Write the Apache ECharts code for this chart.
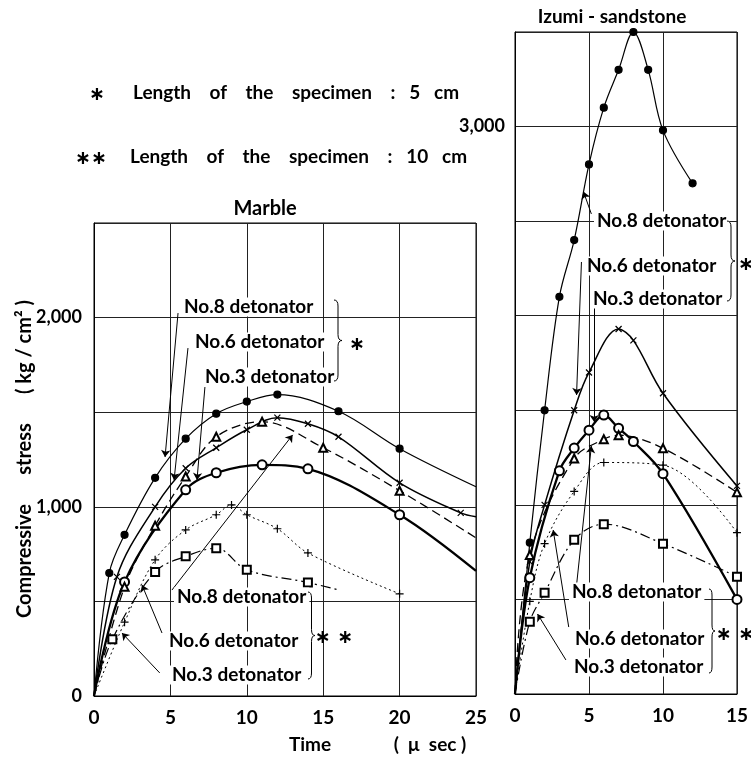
<!DOCTYPE html>
<html>
<head>
<meta charset="utf-8">
<script src="https://cdn.jsdelivr.net/npm/echarts@6/dist/echarts.min.js"></script>
<style>
  html, body { margin: 0; padding: 0; background: #fff; }
  #chart { width: 751px; height: 761px; }
</style>
</head>
<body>
<div id="chart"></div>
<script>
// Marble, specimen 5 cm
const m5No8X = [1, 2, 4, 6, 8, 10, 12, 16, 20];
const m5No8Y = [650, 852, 1153, 1360, 1492, 1556, 1593, 1505, 1307];
const m5No8End = [25, 1106];
const m5No6X = [1.5, 4, 6, 8, 10, 12, 14, 16, 20, 24];
const m5No6Y = [630, 1000, 1204, 1312, 1407, 1471, 1439, 1370, 1127, 968];
const m5No6End = [25, 947];
const m5No3X = [2, 6, 8, 11, 14, 20];
const m5No3Y = [603, 1090, 1180, 1222, 1201, 958];
const m5No3End = [25, 661];
// Marble, specimen 10 cm
const m10No8X = [2, 4, 6, 8, 11, 15, 20];
const m10No8Y = [577, 900, 1160, 1370, 1450, 1312, 1085];
const m10No8End = [25, 836];
const m10No6X = [2, 4, 6, 8, 9, 10, 12, 14, 20];
const m10No6Y = [390, 720, 878, 958, 1010, 958, 884, 756, 540];
const m10No3X = [1.2, 4, 6, 8, 10, 14];
const m10No3Y = [300, 656, 738, 781, 667, 600];
const m10No3End = [16, 561];

// Izumi-sandstone, specimen 5 cm
const s5No8X = [1, 2, 3, 4, 5, 6, 7, 8, 9, 10, 12];
const s5No8Y = [800, 1500, 2100, 2400, 2800, 3100, 3300, 3500, 3300, 2980, 2700];
const s5No6X = [1, 2, 4, 5, 7, 8, 10, 15];
const s5No6Y = [700, 1000, 1500, 1700, 1930, 1870, 1590, 1100];
const s5No3X = [1, 3, 4, 5, 6, 7, 8, 10, 15];
const s5No3Y = [615, 1180, 1300, 1395, 1475, 1405, 1335, 1165, 500];
// Izumi-sandstone, specimen 10 cm
const s10No8X = [1, 4, 6, 7, 10, 15];
const s10No8Y = [735, 1245, 1347, 1368, 1299, 1066];
const s10No6X = [1, 2, 4, 6, 10, 15];
const s10No6Y = [490, 795, 1071, 1224, 1210, 853];
const s10No3X = [1, 2, 4, 6, 10, 15];
const s10No3Y = [382, 535, 815, 898, 795, 620];

// label pointers (from -> to), in data units
const marbleArrows = [
  [[5.5, 2024], [4.65, 1263]],
  [[6.15, 1839], [5.24, 1142]],
  [[7.26, 1633], [6.74, 1142]],
  [[5.1, 560], [13.0, 1380]],
  [[4.45, 333], [3.14, 587]],
  [[4.3, 122], [1.83, 333]]
];
const sandArrows = [
  [[5.16, 2538], [4.63, 2655]],
  [[4.49, 2284], [4.16, 1581]],
  [[5.35, 2083], [5.35, 1438]],
  [[4.16, 576], [5.16, 1311]],
  [[3.63, 354], [2.58, 867]],
  [[3.44, 180], [1.52, 423]]
];

const FONT = 'Lato, "Noto Sans", sans-serif';
const CROSS = 'path://M0,0L10,10M10,0L0,10';
const PLUS = 'path://M5,0L5,10M0,5L10,5';

function pts(xs, ys, end) {
  const d = [{ value: [0, 0], symbol: 'none' }];
  xs.forEach((x, i) => d.push([x, ys[i]]));
  if (end) d.push({ value: end, symbol: 'none' });
  return d;
}

// styles for the six kinds of curve
const kinds = {
  no8_5: { symbol: 'circle', symbolSize: 7, line: { width: 1.2, type: 'solid' } },
  no6_5: { symbol: CROSS, symbolSize: 6, line: { width: 1.5, type: 'solid' } },
  no3_5: { symbol: 'emptyCircle', symbolSize: 9, line: { width: 2.3, type: 'solid' } },
  no8_10: { symbol: 'emptyTriangle', symbolSize: 8, line: { width: 1.3, type: [9, 5] } },
  no6_10: { symbol: PLUS, symbolSize: 8, line: { width: 1, type: [2, 3] } },
  no3_10: { symbol: 'emptyRect', symbolSize: 8, line: { width: 1.2, type: [10, 4, 2, 4] } }
};

function mk(kind, gi, data, arrows) {
  const k = kinds[kind];
  const s = {
    type: 'line',
    xAxisIndex: gi,
    yAxisIndex: gi,
    data: data,
    smooth: 0.35,
    clip: false,
    symbol: k.symbol,
    symbolSize: k.symbolSize,
    showAllSymbol: true,
    lineStyle: Object.assign({ color: '#000' }, k.line),
    itemStyle: { color: '#000', borderColor: '#000', borderWidth: 1.2 },
    emphasis: { disabled: true },
    animation: false
  };
  if (arrows) {
    s.markLine = {
      silent: true,
      symbol: ['none', 'arrow'],
      symbolSize: 7,
      label: { show: false },
      lineStyle: { color: '#000', width: 1, type: 'solid' },
      data: arrows.map(a => [{ coord: a[0] }, { coord: a[1] }])
    };
  }
  return s;
}

function txt(t, x, y, opt) {
  opt = opt || {};
  const st = {
    text: t,
    font: (opt.weight || 'bold') + ' ' + (opt.size || 19) + 'px ' + (opt.family || FONT),
    fill: '#000',
    textAlign: opt.align || 'left',
    textVerticalAlign: 'middle'
  };
  if (opt.bg) { st.backgroundColor = '#fff'; st.padding = [0, 3]; }
  return { type: 'text', x: x, y: y, rotation: opt.rot || 0, z: 100, style: st };
}

// curly brace opening to the right, made of curves and lines
function brace(x, y1, y2, w) {
  const m = (y1 + y2) / 2, h = x + w / 2, d = 6;
  const st = { fill: null, stroke: '#000', lineWidth: 1 };
  const q = (a, b, c, e, f, g) => ({ type: 'bezierCurve', z: 100, shape: { x1: a, y1: b, cpx1: c, cpy1: e, x2: f, y2: g }, style: st });
  const l = (a, b, c, e) => ({ type: 'line', z: 100, shape: { x1: a, y1: b, x2: c, y2: e }, style: st });
  return [
    q(x, y1, h, y1, h, y1 + d),
    l(h, y1 + d, h, m - d),
    q(h, m - d, h, m, x + w, m),
    q(x + w, m, h, m, h, m + d),
    l(h, m + d, h, y2 - d),
    q(h, y2 - d, h, y2, x, y2)
  ];
}

const fmt = v => v === 0 ? '0' : (v / 1000) + ',000';

const axisCommon = {
  type: 'value',
  axisLine: { show: true, onZero: false, lineStyle: { color: '#000', width: 1 } },
  axisTick: { show: false },
  splitLine: { show: true, lineStyle: { color: '#222', width: 1 } },
  axisLabel: { color: '#000', fontFamily: FONT, fontWeight: 'bold', fontSize: 19, margin: 12 }
};

const STAR = { family: '"DejaVu Sans"', size: 19, align: 'center' };

const chart = echarts.init(document.getElementById('chart'));
chart.setOption({
  animation: false,
  backgroundColor: '#fff',
  grid: [
    { left: 94, top: 223, width: 382, height: 473, show: true, borderColor: '#000', borderWidth: 1 },
    { left: 515, top: 32, width: 227, height: 662, show: true, borderColor: '#000', borderWidth: 1 }
  ],
  xAxis: [
    Object.assign({}, axisCommon, { gridIndex: 0, min: 0, max: 25, interval: 5 }),
    Object.assign({}, axisCommon, { gridIndex: 1, min: 0, max: 15, interval: 5 })
  ],
  yAxis: [
    Object.assign({}, axisCommon, {
      gridIndex: 0, min: 0, max: 2500, interval: 500,
      axisLabel: Object.assign({}, axisCommon.axisLabel, {
        fontSize: 18, formatter: v => (v % 1000 === 0 ? fmt(v) : '')
      })
    }),
    Object.assign({}, axisCommon, {
      gridIndex: 1, min: 0, max: 3500, interval: 500,
      axisLabel: Object.assign({}, axisCommon.axisLabel, {
        fontSize: 18, margin: 10, formatter: v => (v === 3000 ? fmt(v) : '')
      })
    })
  ],
  series: [
    mk('no8_5', 0, pts(m5No8X, m5No8Y, m5No8End), marbleArrows),
    mk('no6_5', 0, pts(m5No6X, m5No6Y, m5No6End)),
    mk('no3_5', 0, pts(m5No3X, m5No3Y, m5No3End)),
    mk('no8_10', 0, pts(m10No8X, m10No8Y, m10No8End)),
    mk('no6_10', 0, pts(m10No6X, m10No6Y)),
    mk('no3_10', 0, pts(m10No3X, m10No3Y, m10No3End)),
    mk('no8_5', 1, pts(s5No8X, s5No8Y), sandArrows),
    mk('no6_5', 1, pts(s5No6X, s5No6Y)),
    mk('no3_5', 1, pts(s5No3X, s5No3Y)),
    mk('no8_10', 1, pts(s10No8X, s10No8Y)),
    mk('no6_10', 1, pts(s10No6X, s10No6Y)),
    mk('no3_10', 1, pts(s10No3X, s10No3Y))
  ],
  graphic: [
    // notes
    txt('\u2217', 97, 95, STAR),
    txt('Length    of    the    specimen    :   5   cm', 133, 93),
    txt('\u2217\u2217', 91, 159, STAR),
    txt('Length    of    the    specimen    :   10   cm', 130, 157),
    // panel titles
    txt('Marble', 265, 209, { align: 'center', size: 20 }),
    txt('Izumi - sandstone', 612, 17, { align: 'center' }),
    // axis names
    txt('Compressive      stress      ( kg / cm\u00b2 )', 25, 459, { align: 'center', rot: Math.PI / 2, size: 20 }),
    txt('Time', 310, 745, { align: 'center' }),
    txt('(  \u03bc  sec )', 430, 745, { align: 'center' }),
    // marble labels
    txt('No.8 detonator', 181, 307, { bg: true }),
    txt('No.6 detonator', 192, 342, { bg: true }),
    txt('No.3 detonator', 202, 377, { bg: true }),
    ...brace(334, 300, 381, 8),
    txt('\u2217', 357, 345, STAR),
    txt('No.8 detonator', 174, 597, { bg: true }),
    txt('No.6 detonator', 166, 641, { bg: true }),
    txt('No.3 detonator', 169, 675, { bg: true }),
    ...brace(308, 592, 679, 7),
    txt('\u2217 \u2217', 334, 638, STAR),
    // sandstone labels
    txt('No.8 detonator', 594, 221, { bg: true }),
    txt('No.6 detonator', 584, 266, { bg: true }),
    txt('No.3 detonator', 590, 299, { bg: true }),
    ...brace(727, 221, 301, 8),
    txt('\u2217', 746, 265, STAR),
    txt('No.8 detonator', 569, 592, { bg: true }),
    txt('No.6 detonator', 572, 639, { bg: true }),
    txt('No.3 detonator', 571, 667, { bg: true }),
    ...brace(709, 589, 673, 6),
    txt('\u2217 \u2217', 735, 635, STAR)
  ]
});
</script>
</body>
</html>
